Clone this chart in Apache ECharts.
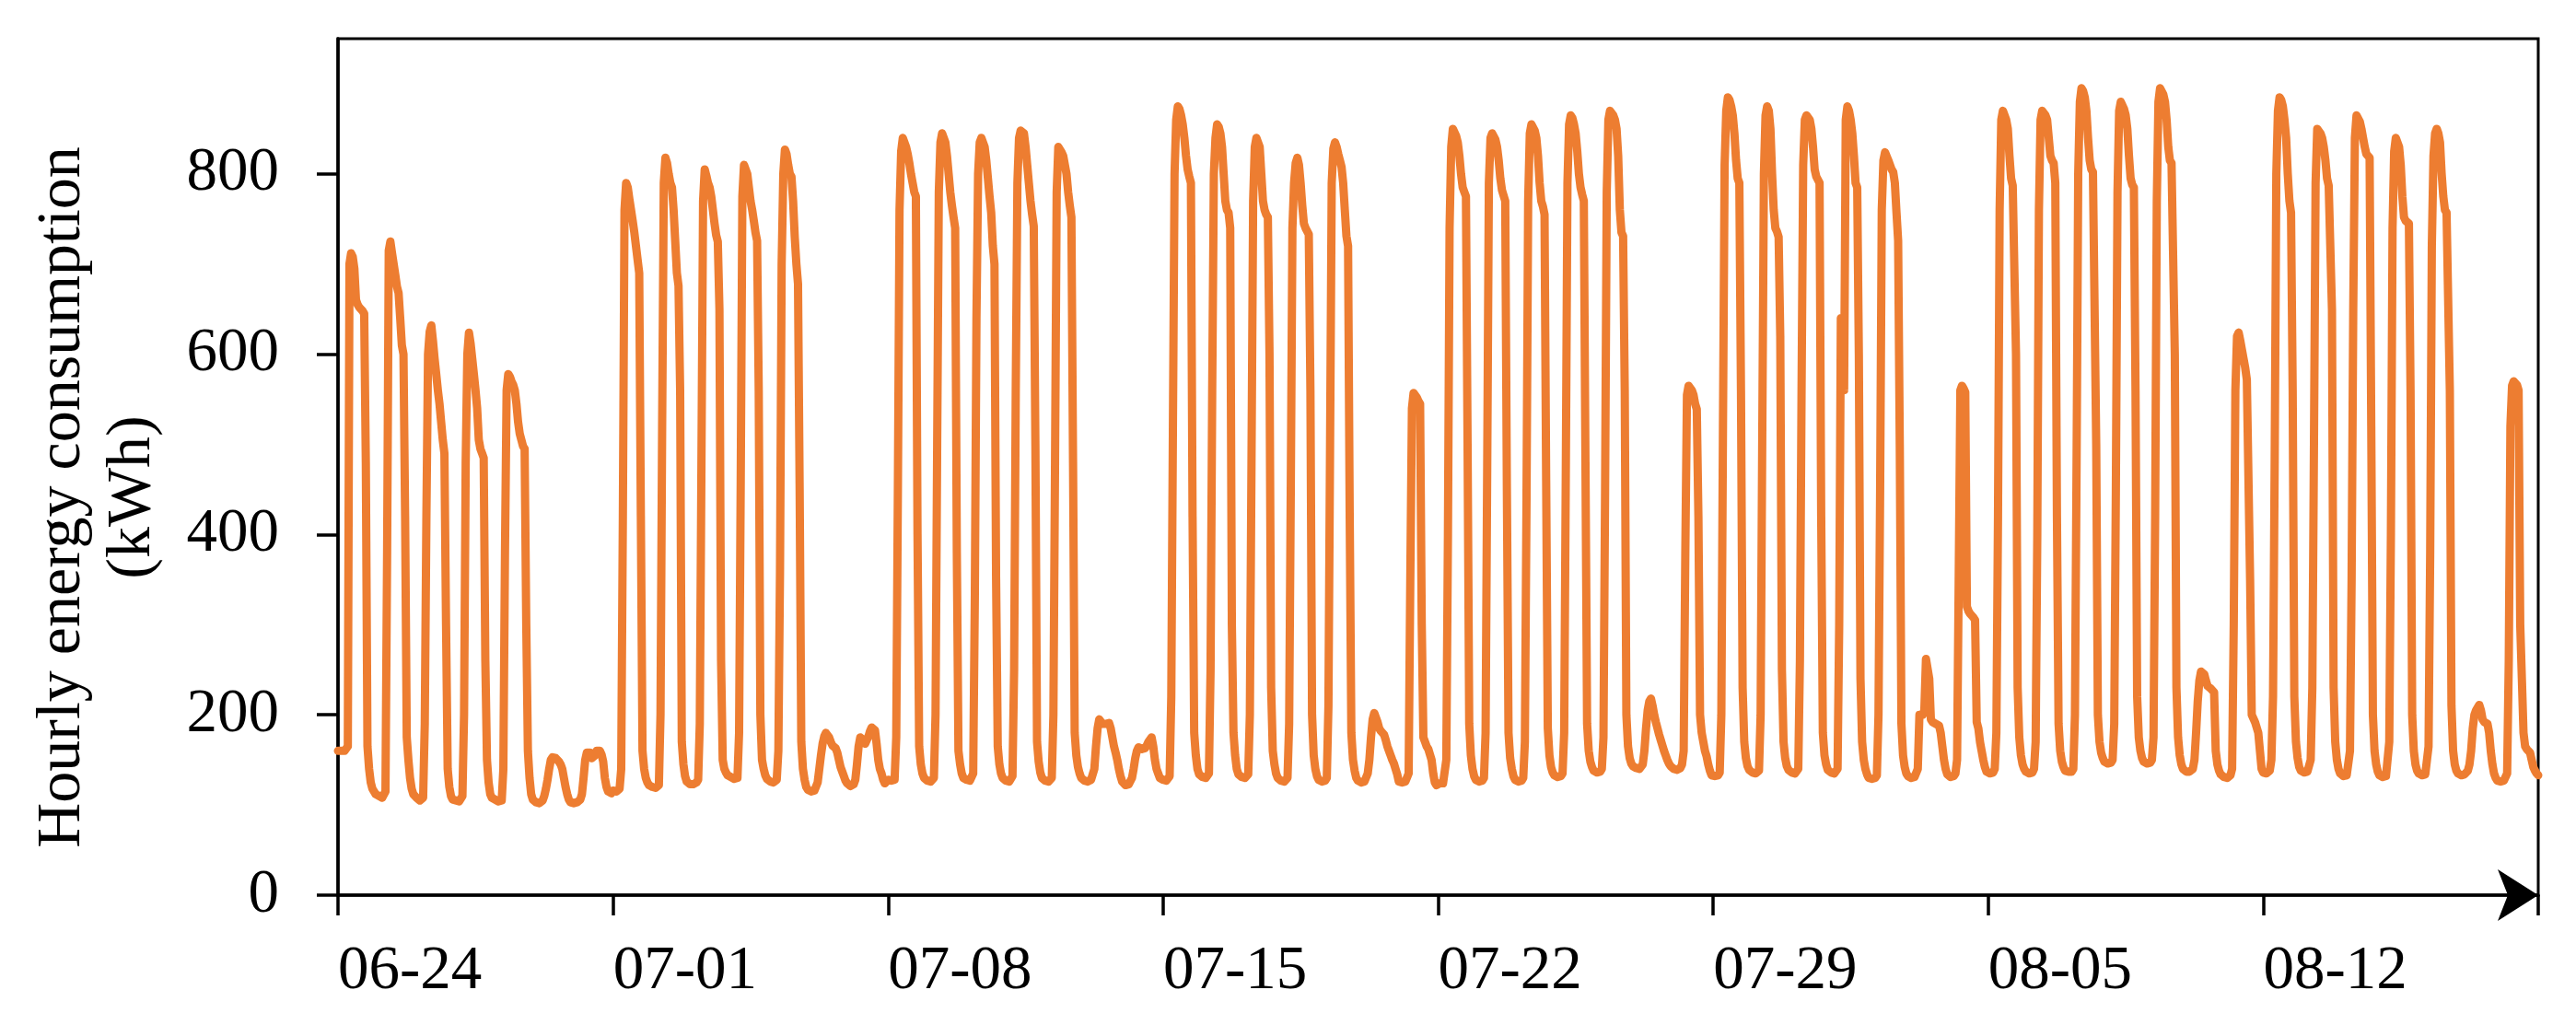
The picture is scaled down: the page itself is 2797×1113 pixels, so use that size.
<!DOCTYPE html>
<html lang="en">
<head>
    <meta charset="UTF-8">
    <title>Hourly energy consumption</title>
    <script src="https://cdn.jsdelivr.net/npm/echarts@6.0.0/dist/echarts.min.js"></script>
    <style>
        html, body { margin: 0; padding: 0; background: #fff; }
        #chart { width: 2797px; height: 1113px; }
    </style>
</head>
<body>
    <div id="chart"></div>
    <script>
        // hourly kWh, one row per day (00:00 .. 23:00)
        var wk0624 = [
            160,160,160,160,160,160,165,700,712,708,695,660,655,652,650,648,645,480,165,140,125,118,115,112,
            110,110,108,108,110,115,380,715,725,712,700,688,675,668,640,610,600,420,175,150,130,118,112,110,
            108,106,105,105,108,190,420,600,625,632,615,595,578,560,545,525,505,490,300,140,120,110,106,105,
            105,105,104,104,110,200,480,600,624,612,595,578,560,540,505,495,490,485,260,150,125,112,108,106,
            106,105,104,104,105,140,380,560,578,575,570,566,560,545,525,512,505,498,495,300,160,130,112,106,
            104,103,102,102,103,105,110,118,128,140,150,153,155,152,150,148,145,140,130,120,112,106,103,102,
            102,102,103,104,106,112,130,150,158,160,158,152,150,155,160,162,160,156,148,130,120,115,114,113
        ];
        var wk0701 = [
            116,115,115,116,118,140,420,760,790,785,772,760,748,735,720,705,690,420,160,140,130,125,122,121,
            120,120,119,120,122,200,520,790,818,812,800,790,785,760,725,690,676,560,170,145,132,126,124,123,
            123,123,124,125,128,190,480,770,805,798,790,785,775,760,745,732,725,650,260,150,140,136,133,132,
            131,130,129,128,130,180,460,775,810,812,800,785,770,760,748,735,726,560,200,150,140,133,129,127,
            126,125,125,126,128,160,360,700,800,827,822,810,800,797,770,730,700,678,450,170,140,128,120,117,
            116,115,115,116,118,125,140,155,168,176,180,178,175,170,166,164,163,158,150,142,137,132,127,124,
            122,121,121,123,128,145,165,175,174,172,168,170,176,182,186,185,183,168,150,140,135,128,124,122
        ];
        var wk0708 = [
            128,127,127,126,128,175,450,760,825,840,838,830,822,812,800,790,780,775,400,165,145,135,130,128,
            127,126,126,127,130,200,500,780,835,845,843,835,820,800,780,765,752,740,380,160,145,135,130,128,
            128,127,127,128,135,330,640,800,835,840,838,830,815,795,775,757,720,700,350,165,145,135,130,128,
            127,126,126,127,132,250,560,790,840,848,850,845,830,810,790,770,755,742,500,170,148,136,130,128,
            127,127,126,127,130,200,480,780,830,828,824,820,819,800,780,765,752,480,180,155,142,135,130,128,
            127,126,126,127,128,130,140,165,185,195,197,190,188,190,192,191,185,175,165,158,150,140,132,126,
            124,122,122,123,125,130,140,152,160,164,165,162,160,163,166,170,172,175,165,150,140,135,130,128
        ];
        var wk0715 = [
            128,127,127,128,132,220,520,800,860,875,872,865,855,840,820,805,797,790,420,180,155,140,134,132,
            131,130,130,131,135,250,560,800,840,855,852,845,830,800,770,760,757,740,300,180,155,140,134,132,
            131,130,130,131,134,200,480,770,830,840,838,830,800,770,760,755,752,600,230,160,145,135,130,128,
            127,126,126,127,130,190,450,740,790,812,818,810,790,765,745,740,738,733,560,200,155,140,132,128,
            127,126,126,127,130,210,500,790,828,835,830,822,815,808,790,760,731,720,420,180,150,138,130,127,
            126,125,125,126,128,135,150,175,195,202,200,192,185,182,180,178,172,165,160,155,150,146,140,134,
            126,126,125,125,126,128,135,350,540,557,556,552,548,545,300,175,170,165,162,160,150,135,125,122
        ];
        var wk0722 = [
            124,124,123,124,126,150,400,740,830,850,848,842,835,820,800,785,780,775,500,190,155,140,132,128,
            127,126,126,127,130,180,480,790,840,845,843,838,830,815,795,782,780,770,450,180,152,140,132,128,
            127,126,126,127,130,170,440,770,845,855,853,848,840,820,790,770,764,755,460,185,155,142,136,133,
            132,131,131,132,135,180,470,790,855,865,862,855,845,825,800,785,777,770,480,190,160,148,142,138,
            137,136,136,137,140,175,450,780,860,870,868,865,860,850,820,760,735,731,560,200,165,152,146,143,
            142,141,140,140,141,145,160,185,205,215,218,210,200,192,185,178,172,166,160,155,150,146,143,141,
            140,139,139,140,141,145,160,380,555,565,563,560,555,545,539,420,200,180,170,160,154,145,138,133
        ];
        var wk0729 = [
            133,132,132,133,136,200,520,810,870,885,882,875,865,845,815,795,790,560,230,170,152,143,139,137,
            136,135,135,136,138,200,510,800,865,875,870,850,800,760,740,736,730,620,250,170,152,143,139,137,
            136,135,135,136,140,260,560,810,860,865,864,860,850,830,805,797,795,790,420,180,155,145,139,137,
            136,135,135,136,140,300,640,600,560,860,875,870,860,845,820,790,785,600,240,170,150,140,134,130,
            130,129,129,130,133,200,450,760,815,824,822,815,810,805,802,790,757,726,500,190,155,142,135,132,
            131,130,130,131,132,140,200,202,200,205,262,262,240,195,192,192,190,190,188,180,165,150,140,134,
            132,131,131,132,135,150,350,560,565,562,558,320,315,312,310,308,305,192,185,170,160,150,142,137
        ];
        var wk0805 = [
            136,135,135,136,140,180,420,760,860,870,868,860,850,820,795,787,785,600,230,175,155,145,140,137,
            136,135,135,136,140,170,400,760,860,870,868,865,860,840,820,815,812,790,420,190,160,148,142,138,
            137,137,136,137,140,200,480,800,880,895,892,885,870,840,815,805,802,800,500,200,170,158,152,148,
            147,146,146,147,150,190,450,780,870,880,878,872,865,850,820,795,788,785,560,220,175,160,152,148,
            147,146,146,147,150,175,420,770,880,895,893,888,880,860,830,815,812,810,600,230,175,155,145,140,
            138,137,136,137,138,140,150,180,215,238,248,250,245,238,232,230,229,228,225,160,145,138,134,132,
            131,131,130,131,133,140,300,560,620,624,615,605,595,585,572,570,350,200,196,192,190,180,160,140
        ];
        var wk0812 = [
            136,135,135,136,138,150,220,480,800,870,885,882,875,860,840,800,770,757,560,220,170,152,142,138,
            137,136,136,137,139,150,230,500,790,850,848,845,840,830,815,795,787,785,650,230,170,150,140,135,
            133,132,132,133,135,160,350,650,840,865,863,858,850,840,830,822,820,818,520,200,160,145,137,133,
            132,131,131,132,134,170,400,740,825,840,838,830,810,775,752,748,747,745,560,200,160,145,138,135,
            134,133,133,134,136,165,380,720,820,845,850,845,835,800,775,760,757,755,560,210,160,145,138,135,
            134,133,133,134,135,138,145,160,185,200,205,208,211,205,195,192,191,190,180,160,145,135,130,127,
            127,126,126,127,128,135,260,520,565,570,568,566,560,300,240,180,165,162,160,158,150,142,138,135
        ];
        var closing = [133]; // 08-19 00:00

        var tickLabels = ['06-24', '07-01', '07-08', '07-15', '07-22', '07-29', '08-05', '08-12'];
        var yTicks = [0, 200, 400, 600, 800];

        var hourly = [].concat(wk0624, wk0701, wk0708, wk0715, wk0722, wk0729, wk0805, wk0812, closing);
        var seriesData = hourly.map(function (v, i) { return [i, v]; });

        var serif = '"Times New Roman", "Liberation Serif", serif';
        var chart = echarts.init(document.getElementById('chart'));

        var option = {
            animation: false,
            backgroundColor: '#fff',
            grid: {
                left: 367,
                right: 41,
                top: 42,
                bottom: 141,
                show: true,
                borderColor: '#000',
                borderWidth: 3
            },
            graphic: [
                {
                    type: 'text',
                    x: 106,
                    y: 540,
                    rotation: Math.PI / 2,
                    style: {
                        text: 'Hourly energy consumption\n(kWh)',
                        font: '68px ' + serif,
                        fill: '#000',
                        align: 'center',
                        verticalAlign: 'middle',
                        lineHeight: 76
                    }
                }
            ],
            xAxis: {
                type: 'value',
                min: 0,
                max: 1344,
                interval: 168,
                splitLine: { show: false },
                axisLine: {
                    lineStyle: { color: '#000', width: 3.5 },
                    symbol: ['none', 'arrow'],
                    symbolSize: [42, 44]
                },
                axisTick: {
                    length: 22,
                    lineStyle: { color: '#000', width: 3.5 }
                },
                axisLabel: {
                    margin: 50,
                    align: 'left',
                    color: '#000',
                    fontSize: 67,
                    fontFamily: serif,
                    formatter: function (v) {
                        return tickLabels[v / 168] || '';
                    }
                }
            },
            yAxis: {
                type: 'value',
                min: 0,
                max: 950,
                interval: 200,
                splitLine: { show: false },
                axisLine: {
                    show: true,
                    lineStyle: { color: '#000', width: 3.5 }
                },
                axisTick: {
                    show: true,
                    length: 23,
                    customValues: yTicks,
                    lineStyle: { color: '#000', width: 3.5 }
                },
                axisLabel: {
                    margin: 64,
                    color: '#000',
                    fontSize: 67,
                    fontFamily: serif,
                    customValues: yTicks
                }
            },
            series: [
                {
                    type: 'line',
                    data: seriesData,
                    showSymbol: false,
                    lineStyle: { color: '#ED7D31', width: 9, join: 'round', cap: 'round' },
                    itemStyle: { color: '#ED7D31' }
                }
            ]
        };

        chart.setOption(option);
    </script>
</body>
</html>
